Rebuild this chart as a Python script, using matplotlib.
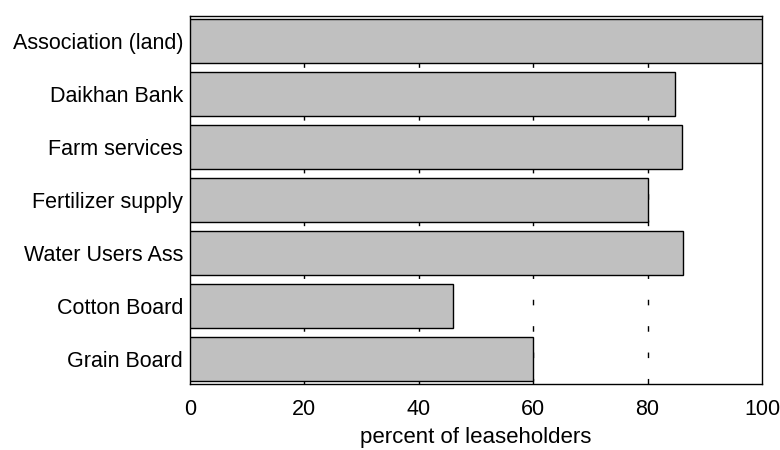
import matplotlib.pyplot as plt

plt.rcParams['font.family'] = ['Liberation Sans', 'DejaVu Sans']

categories = ['Association (land)', 'Daikhan Bank', 'Farm services',
              'Fertilizer supply', 'Water Users Ass', 'Cotton Board', 'Grain Board']
values = [100, 84.8, 86.0, 80.0, 86.2, 46.0, 60.0]

fig = plt.figure(figsize=(7.8, 4.5), dpi=100)
ax = fig.add_axes([190 / 780, 1 - 384 / 450, 572 / 780, 368 / 450])

pos = list(range(len(categories)))
ax.barh(pos, values, height=0.83, color='#c0c0c0', edgecolor='black',
        linewidth=1, zorder=3)

ax.set_ylim(len(categories) - 0.53, -0.47)
ax.set_xlim(0, 100)
ax.set_xticks([0, 20, 40, 60, 80, 100])
ax.set_yticks(pos)
ax.set_yticklabels(categories)
ax.tick_params(axis='both', length=0, labelsize=15.5, pad=5)
ax.tick_params(axis='x', pad=11)

for x in [20, 40, 60, 80]:
    ax.axvline(x, color='black', linewidth=1, linestyle=(0, (4, 15)), zorder=1)

for s in ax.spines.values():
    s.set_linewidth(1)
    s.set_color('black')

ax.set_xlabel('percent of leaseholders', fontsize=16, labelpad=5)

fig.savefig('out.png', dpi=100)
